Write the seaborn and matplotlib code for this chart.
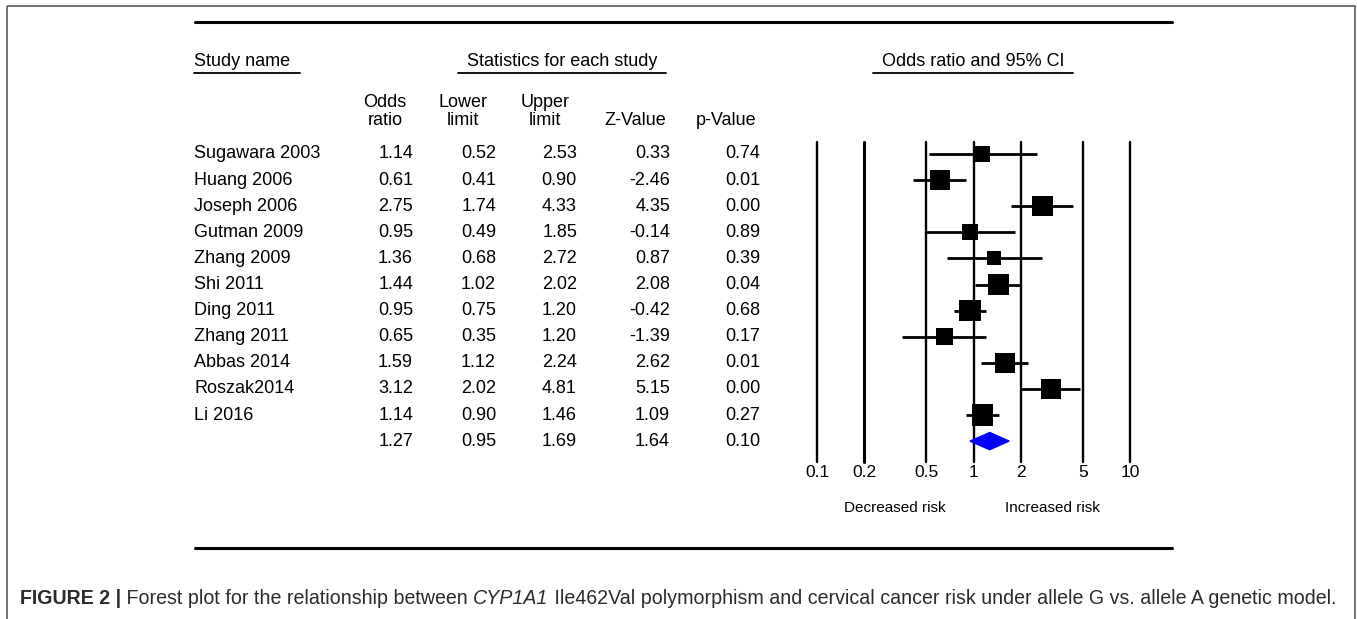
import numpy as np
import pandas as pd
import matplotlib
matplotlib.use('Agg')
import matplotlib.pyplot as plt
import seaborn as sns
from matplotlib.patches import Polygon, Rectangle
from matplotlib.transforms import blended_transform_factory

studies = ['Sugawara 2003', 'Huang 2006', 'Joseph 2006', 'Gutman 2009', 'Zhang 2009', 'Shi 2011',
           'Ding 2011', 'Zhang 2011', 'Abbas 2014', 'Roszak2014', 'Li 2016']
odds = [1.14, 0.61, 2.75, 0.95, 1.36, 1.44, 0.95, 0.65, 1.59, 3.12, 1.14]
lower = [0.52, 0.41, 1.74, 0.49, 0.68, 1.02, 0.75, 0.35, 1.12, 2.02, 0.90]
upper = [2.53, 0.90, 4.33, 1.85, 2.72, 2.02, 1.20, 1.20, 2.24, 4.81, 1.46]
zval = [0.33, -2.46, 4.35, -0.14, 0.87, 2.08, -0.42, -1.39, 2.62, 5.15, 1.09]
pval = [0.74, 0.01, 0.00, 0.89, 0.39, 0.04, 0.68, 0.17, 0.01, 0.00, 0.27]
# relative study weights (box size)
weight = [14, 19, 19, 15, 13, 19, 20, 16, 19, 19, 20]
pooled = [1.27, 0.95, 1.69, 1.64, 0.10]
ticks = [0.1, 0.2, 0.5, 1, 2, 5, 10]
tick_labels = ['0.1', '0.2', '0.5', '1', '2', '5', '10']

df = pd.DataFrame({'study': studies, 'odds': odds, 'lower': lower, 'upper': upper,
                   'z': zval, 'p': pval, 'weight': weight})
df['row'] = np.arange(len(df))

sns.set_style('white')
plt.rcParams['font.family'] = ['Liberation Sans', 'DejaVu Sans']
plt.rcParams['text.color'] = 'black'
plt.rcParams['xtick.color'] = 'black'

W, H = 1357, 619
fig = plt.figure(figsize=(W / 100, H / 100), dpi=100)

# overlay axes in pixel coordinates for text and rules
bg = fig.add_axes([0, 0, 1, 1])
bg.set_xlim(0, W)
bg.set_ylim(H, 0)
bg.axis('off')

# forest panel: 0.1 at x=817, 10 at x=1130; rows span y=142..462
x0, x1, y0, y1 = 817, 1130, 142, 462
step = 26.1
ax = fig.add_axes([x0 / W, 1 - y1 / H, (x1 - x0) / W, (y1 - y0) / H])
ax.set_xscale('log')
ax.set_xlim(0.1, 10)
ax.set_ylim((y1 - 154) / step, (y0 - 154) / step)
for s in ax.spines.values():
    s.set_visible(False)
ax.set_facecolor('none')
ax.set_yticks([])
ax.set_xticks(ticks)
ax.set_xticklabels(tick_labels, fontsize=12.5)
ax.xaxis.set_minor_locator(matplotlib.ticker.NullLocator())
ax.tick_params(axis='x', length=0, pad=2, labelcolor='black')
ax.grid(False)

for t in ticks:
    lv = ax.axvline(t, color='black', lw=1.7 if t != 0.2 else 2.2, zorder=1)
    lv.set_clip_on(False)

ax.hlines(df['row'], df['lower'], df['upper'], color='black', lw=2.0, zorder=2)
sizes = {w: (w * 0.78) ** 2 for w in df['weight'].unique()}
sns.scatterplot(data=df, x='odds', y='row', size='weight', sizes=sizes, marker='s',
                color='black', edgecolor='black', linewidth=0, legend=False, ax=ax, zorder=3)
ax.set_xlabel('')
ax.set_ylabel('')
ax.set_xlim(0.1, 10)
ax.set_ylim((y1 - 154) / step, (y0 - 154) / step)

ys = len(df)
diamond = Polygon([(pooled[1], ys), (pooled[0], ys - 0.33), (pooled[2], ys), (pooled[0], ys + 0.33)],
                  closed=True, facecolor='#0000ff', edgecolor='#0000ff', zorder=4)
ax.add_patch(diamond)

# table text: x in pixels, y in row units
tr = blended_transform_factory(bg.transData, ax.transData)
fs = 13
for _, r in df.iterrows():
    bg.text(194, r['row'], r['study'], transform=tr, fontsize=fs, va='center', ha='left')
cols = [(413, 'odds'), (496, 'lower'), (577, 'upper'), (670, 'z'), (760, 'p')]
for i in range(len(df)):
    for xr, c in cols:
        bg.text(xr, i, f"{df[c][i]:.2f}", transform=tr, fontsize=fs, va='center', ha='right')
for (xr, c), v in zip(cols, pooled):
    bg.text(xr, ys, f"{v:.2f}", transform=tr, fontsize=fs, va='center', ha='right')

# headers
bg.text(194, 62, 'Study name', fontsize=fs, va='center', ha='left')
bg.plot([194, 300], [73, 73], color='black', lw=1.3)
bg.text(562, 62, 'Statistics for each study', fontsize=fs, va='center', ha='center')
bg.plot([458, 666], [73, 73], color='black', lw=1.3)
bg.text(973, 62, 'Odds ratio and 95% CI', fontsize=fs, va='center', ha='center')
bg.plot([873, 1073], [73, 73], color='black', lw=1.3)

heads = [(385, 'Odds\nratio'), (463, 'Lower\nlimit'), (545, 'Upper\nlimit'),
         (635, 'Z-Value'), (726, 'p-Value')]
for xc, txt in heads:
    bg.text(xc, 129, txt, fontsize=fs, va='bottom', ha='center', linespacing=1.1)

bg.text(895, 508, 'Decreased risk', fontsize=11, va='center', ha='center')
bg.text(1052, 508, 'Increased risk', fontsize=11, va='center', ha='center')

# rules
bg.plot([195, 1172], [22, 22], color='black', lw=2.2)
bg.plot([195, 1172], [548, 548], color='black', lw=2.2)

# outer frame
bg.add_patch(Rectangle((7, 6), 1348, 640, fill=False, edgecolor='#666666', lw=1.3))

# caption with mixed styles
cap = [('FIGURE 2 |', dict(fontweight='bold')),
       (' Forest plot for the relationship between ', {}),
       ('CYP1A1', dict(fontstyle='italic')),
       (' Ile462Val polymorphism and cervical cancer risk under allele G vs. allele A genetic model.', {})]
fig.canvas.draw()
renderer = fig.canvas.get_renderer()
xpos = 20
for txt, kw in cap:
    t = bg.text(xpos, 598, txt, fontsize=14.15, va='center', ha='left', color='#2b2b2b', **kw)
    bb = t.get_window_extent(renderer=renderer)
    xpos += bb.width

fig.savefig('out.png', dpi=100)
